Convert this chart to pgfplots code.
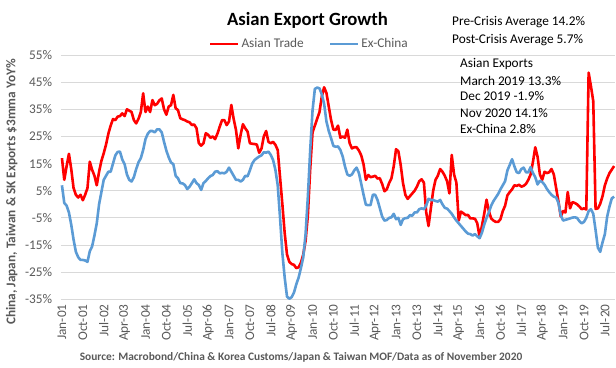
\documentclass[border=0pt]{standalone}
\usepackage{pgfplots}
\pgfplotsset{compat=1.18}
\usepackage{pgfplotstable}
\usepackage{fontspec}
\setmainfont{Carlito}
\definecolor{asred}{HTML}{FF0000}
\definecolor{asblue}{HTML}{5B9BD5}
\definecolor{gridc}{HTML}{D9D9D9}
\definecolor{txt}{HTML}{595959}

\pgfplotstableread{
t r b
0 17 7
1 9 0.5
2 14 -0.5
3 18.6 -3
4 13 -7.5
5 6 -13
6 3.5 -17.5
7 2.5 -19.5
8 3.5 -20.5
9 1.5 -20.5
10 3.5 -20.7
11 6 -21.2
12 15.7 -17.3
13 12.7 -15.5
14 10.5 -11.5
15 7 -7
16 12 0
17 16 4.5
18 18.8 9
19 22 10.5
20 26 12
21 29 12
22 31.4 15
23 31 18
24 32.3 19.3
25 32.5 19.4
26 33.5 16.5
27 32.5 14.8
28 35 11
29 34.5 9
30 34 8.4
31 31 10
32 29.8 13
33 31.5 15.5
34 34 17
35 40.9 20
36 34 24
37 36 26
38 34 27
39 38.4 27
40 36.5 26.5
41 37 27.6
42 38.3 27.6
43 39 26.5
44 35 23
45 33 19.8
46 36 17.3
47 36.5 15.4
48 40.3 14.8
49 35.4 10.5
50 34.7 9.6
51 31.7 7.8
52 31.3 7.7
53 31 7.1
54 30.5 5.6
55 30.2 6.5
56 29.2 7.8
57 29.4 9.2
58 28 7.8
59 22.5 7.1
60 21.6 5.3
61 22.5 7.8
62 26.2 8.6
63 25.6 9.6
64 24.5 10.4
65 25 10.8
66 24 12
67 26 12.2
68 28.6 11.4
69 31 11.6
70 31 11.4
71 29.2 12
72 30.5 13.5
73 36.6 12
74 31.5 10.5
75 27.4 9
76 20.6 9
77 25.6 8.4
78 29.5 9
79 28 10.5
80 26.8 10.3
81 22.5 12.5
82 22.3 15
83 22.2 16.3
84 22 17
85 19 17.6
86 20.5 18
87 25 19.2
88 27 19
89 23 19.4
90 22.5 18.2
91 23 16.3
92 21.9 12.7
93 20 7
94 10 -5
95 0 -18
96 -10.6 -27
97 -18.5 -34
98 -21.2 -34.8
99 -22 -34.2
100 -22.3 -32.5
101 -23.5 -29.5
102 -23.2 -27
103 -21.5 -23.5
104 -18.5 -19.5
105 -13.5 -11
106 -4 3
107 13 20
108 26.5 34.5
109 29 42.5
110 31.5 43
111 34 42.7
112 39.7 40.5
113 43.1 37
114 41 30.5
115 36 27
116 31 24.3
117 27.5 21.5
118 27.4 21.2
119 29 21.3
120 24.5 20
121 25 17.6
122 24.5 13.9
123 27.5 11
124 22.5 10.5
125 20.6 11
126 21 12.5
127 21 13.5
128 19.8 11.5
129 18 7.5
130 14.7 3.5
131 9 -0.2
132 10.8 -0.3
133 10 -0.3
134 10.2 3.5
135 10.5 3.5
136 9.5 1.6
137 9.6 -1.4
138 7.5 -4.5
139 4.8 -6
140 5.5 -5.8
141 7.8 -5
142 9.5 -4.8
143 14 -3.5
144 20.3 -5.5
145 19.5 -5
146 14.5 -7.6
147 7.8 -5.5
148 3.5 -5.1
149 2 -5
150 3 -4
151 4 -4.2
152 5 -3
153 6.5 -3
154 8.5 -1.8
155 9.2 -1.5
156 8 -1.8
157 -3 -0.5
158 -8 2
159 -1.5 1.6
160 5 1.6
161 9 1.2
162 10.5 1
163 13 1.6
164 12 0
165 10.5 -1.3
166 8.5 -1.6
167 4 -2.5
168 18.2 -3.5
169 11 -4.8
170 8 -6
171 -6 -7
172 -2.7 -8
173 -3.3 -9
174 -4 -10
175 -3.9 -10.8
176 -5.2 -11
177 -5.2 -11.5
178 -5.3 -11
179 -7 -11.8
180 -12 -12.5
181 -8 -10.5
182 -3.5 -7.5
183 1.7 -5
184 -2.5 -3
185 -5.2 -0.5
186 -6 1.2
187 -6.5 2.5
188 -6.5 3.8
189 -5.5 5.5
190 -2.5 7
191 -0.5 8.5
192 3.3 12.5
193 4.5 14.5
194 5.5 16.6
195 7 14
196 6.8 11.8
197 7.2 11.5
198 6.5 13
199 6.8 13.5
200 7.5 11.8
201 9 11.8
202 11 13.7
203 15.6 11.5
204 21 10
205 17.5 7.3
206 11 8.7
207 9 8.2
208 12 7.2
209 11.5 5.7
210 11.8 4.5
211 13 3.5
212 11 2.8
213 6 2.5
214 1 0.5
215 -4.5 -4
216 -2.5 -6
217 -3 -5.7
218 4.5 -5.5
219 -1.5 -5.2
220 0.8 -4.9
221 0.5 -4.8
222 0 -5
223 -0.8 -6.2
224 -1.8 -7
225 -1.5 -6.5
226 -1.9 -5
227 48.5 -2.5
228 43.5 -1.8
229 38 -3.5
230 -1.7 -9.5
231 -1.5 -16
232 0.2 -17.5
233 3 -14
234 7 -11
235 9.5 -4.5
236 11.5 -0.8
237 12.8 2.2
238 14.1 2.8
}\data

\begin{document}
\begin{tikzpicture}
\begin{axis}[
  scale only axis,
  width=554.5bp, height=244.3bp,
  xmin=-0.5, xmax=238.5, ymin=-35, ymax=55,
  axis line style={draw=none},
  major tick length=0pt,
  ymajorgrids, grid style={gridc, line width=0.75bp},
  ytick={-35,-25,...,55},
  yticklabels={-35\%,-25\%,-15\%,-5\%,5\%,15\%,25\%,35\%,45\%,55\%},
  xtick={0,9,...,234},
  xticklabels={Jan-01,Oct-01,Jul-02,Apr-03,Jan-04,Oct-04,Jul-05,Apr-06,Jan-07,Oct-07,Jul-08,Apr-09,Jan-10,Oct-10,Jul-11,Apr-12,Jan-13,Oct-13,Jul-14,Apr-15,Jan-16,Oct-16,Jul-17,Apr-18,Jan-19,Oct-19,Jul-20},
  tick label style={font=\fontsize{13.3bp}{15bp}\selectfont, text=txt},
  xticklabel style={rotate=90, anchor=east, inner xsep=5bp, inner ysep=0pt},
  yticklabel style={anchor=east, inner xsep=8.5bp, inner ysep=0pt},
  legend style={at={(0.4483,1.045)}, anchor=center, draw=none, fill=none,
    legend columns=2, font=\fontsize{13.3bp}{15bp}\selectfont, text=txt, inner sep=0pt,
    /tikz/every even column/.append style={column sep=23bp}},
  legend image code/.code={\draw[#1, line width=2.6bp] (0bp,0bp) -- (28bp,0bp);},
  clip=false,
]
\addplot[asred, line width=2.6bp, line join=round] table[x=t,y=r]{\data};
\addlegendentry{Asian Trade}
\addplot[asblue, line width=2.6bp, line join=round] table[x=t,y=b]{\data};
\addlegendentry{Ex-China}
\end{axis}
\node[font=\bfseries\fontsize{18.7bp}{22bp}\selectfont] at (246.7bp,279.3bp) {Asian Export Growth};
\node[anchor=west, inner sep=0pt, font=\fontsize{13.3bp}{15bp}\selectfont] at (391.2bp,277.3bp) {Pre-Crisis Average 14.2\%};
\node[anchor=west, inner sep=0pt, font=\fontsize{13.3bp}{15bp}\selectfont] at (391.2bp,259.3bp) {Post-Crisis Average 5.7\%};
\begin{scope}[every node/.style={anchor=west, inner sep=0pt, font=\fontsize{13.3bp}{15bp}\selectfont}]
\node at (399.2bp,235.3bp) {Asian Exports};
\node at (399.2bp,218.6bp) {March 2019 13.3\%};
\node at (399.2bp,203.3bp) {Dec 2019 -1.9\%};
\node at (399.2bp,186.6bp) {Nov 2020 14.1\%};
\node at (399.2bp,170.0bp) {Ex-China 2.8\%};
\end{scope}
\node[rotate=90, text=txt, font=\bfseries\fontsize{13.3bp}{15bp}\selectfont] at (-49.1bp,107.3bp) {China, Japan, Taiwan \& SK Exports \$3mma YoY\%};
\node[text=txt, font=\bfseries\fontsize{11.4bp}{14bp}\selectfont] at (240.2bp,-57.7bp) {Source: Macrobond/China \& Korea Customs/Japan \& Taiwan MOF/Data as of November 2020};
\pgfresetboundingbox
\useasboundingbox (-60.8bp,-68.7bp) rectangle (555.2bp,299.3bp);
\end{tikzpicture}
\end{document}
